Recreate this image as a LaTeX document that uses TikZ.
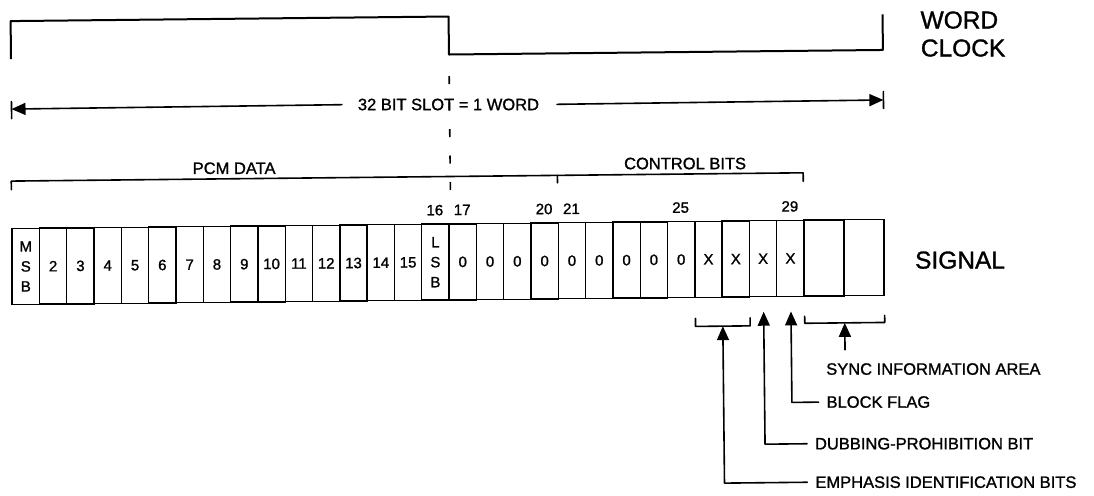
\documentclass[tikz,border=0pt]{standalone}
\usepackage{fontspec}
\setmainfont{Liberation Sans}
\newfontfamily\heavyfont[FakeBold=1.2]{Liberation Sans}
\usetikzlibrary{arrows.meta}
\begin{document}
\begin{tikzpicture}[x=1pt,y=-1pt,
  every node/.style={inner sep=0pt, outer sep=0pt},
  ln/.style={line width=1.6pt, line cap=round, line join=round},
  wc/.style={line width=2pt, line join=round},
  cellbox/.style={draw, line width=1.4pt, minimum height=76pt, align=center, font=\heavyfont\fontsize{15}{20}\selectfont},
  big/.style={font=\heavyfont\fontsize{24.5}{28}\selectfont, anchor=west},
  lbl/.style={font=\heavyfont\fontsize{16.5}{18}\selectfont},
  num/.style={font=\heavyfont\fontsize{15}{17}\selectfont},
  tip/.style={-{Triangle[length=14pt,width=12pt]}},
]
\useasboundingbox (0,0) rectangle (1094,495);
\begin{scope}[rotate around={0.6:(450,250)}]
% word clock
\draw[wc] (13,54.5) -- (13,16.5) -- (451,16.5) -- (451,54.5) -- (885,54.5) -- (885,19);
\node[big] (word) at (923,25) {WORD};
\node[big] (clock) at (923,53) {CLOCK};
% dashed marker
\draw[line width=1.6pt, dash pattern=on 8pt off 18.5pt] (451,76) -- (451,190);
% slot arrow
\node[lbl] (slot) at (450,104.5) {32 BIT SLOT = 1 WORD};
\coordinate (sl) at (13,104.5);
\coordinate (sr) at (885,104.5);
\draw[ln] (13,97) -- (13,114);
\draw[ln] (885,96) -- (885,113);
\draw[ln,tip] ([xshift=-16pt]slot.west) -- (sl);
\draw[ln,tip] ([xshift=18pt]slot.east) -- (sr);
% cells
\foreach \i/\t in {1/{M\\S\\B},2/2,3/3,4/4,5/5,6/6,7/7,8/8,9/9,10/10,11/11,12/12,13/13,14/14,15/15,16/{L\\S\\B},17/0,18/0,19/0,20/0,21/0,22/0,23/0,24/0,25/0,26/X,27/X,28/X,29/X}{
  \pgfmathsetmacro{\cx}{12+(\i-0.5)*27.31}
  \node[cellbox, minimum width=27.31pt] (c\i) at (\cx,262) {\t};
}
\node[cellbox, minimum width=40pt] (s1) at (824,262) {};
\node[cellbox, minimum width=40pt] (s2) at (864,262) {};
\node[big] (signal) at (915,265) {SIGNAL};
% bit numbers
\foreach \i in {16,17,20,21,25,29}{
  \node[num] (l\i) at (c\i.center |- 0,210) {\i};
}
% braces
\draw[ln] (c1.west |- 0,185) -- (c1.west |- 0,176.5) -- (c29.east |- 0,176.5) -- (c29.east |- 0,185);
\draw[ln] (c20.east |- 0,176.5) -- (c20.east |- 0,184);
\node[lbl] (pcm) at (235,166) {PCM DATA};
\node[lbl] (ctl) at (686,166) {CONTROL BITS};
% bottom brackets
\draw[ln] (c26.west |- 0,321) -- (c26.west |- 0,329) -- (c27.east |- 0,329) -- (c27.east |- 0,321);
\draw[ln] (s1.west |- 0,320) -- (s1.west |- 0,327) -- (s2.east |- 0,327) -- (s2.east |- 0,320);
% labels
\node[lbl, anchor=west] (tsync) at (825,373) {SYNC INFORMATION AREA};
\node[lbl, anchor=west] (tblock) at (825,406) {BLOCK FLAG};
\node[lbl, anchor=west] (tdub) at (813,447.5) {DUBBING-PROHIBITION BIT};
\node[lbl, anchor=west] (temph) at (813,486) {EMPHASIS IDENTIFICATION BITS};
% arrows
\coordinate (sbot) at (844,354);
\draw[ln,tip] (sbot) -- (s1.east |- 0,327);
\draw[ln,tip] ([xshift=-8pt]tblock.west) -| (c29.center |- 0,315);
\draw[ln,tip] ([xshift=-8pt]tdub.west) -| (c28.center |- 0,315);
\draw[ln,tip] ([xshift=-8pt]temph.west) -| (c26.east |- 0,329);
\end{scope}
\end{tikzpicture}
\end{document}
